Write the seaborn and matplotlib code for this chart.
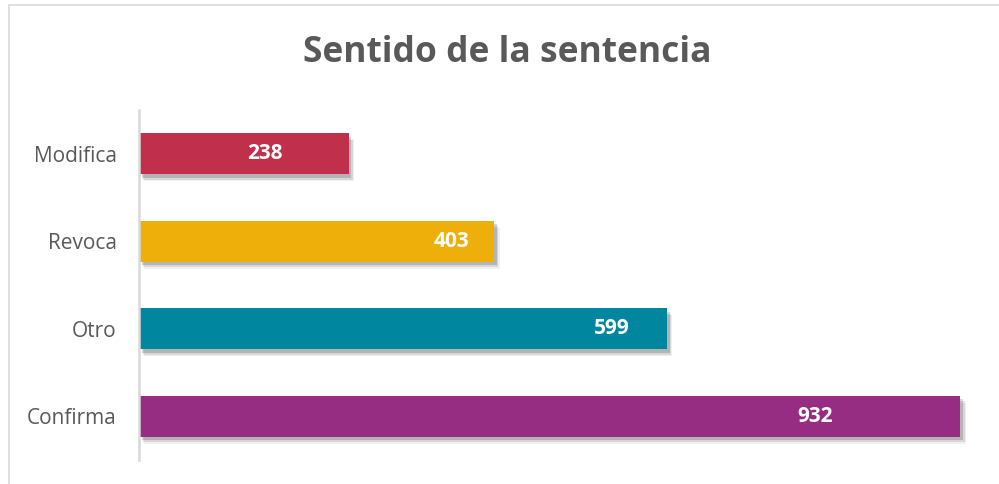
import matplotlib
matplotlib.use('Agg')
import matplotlib.pyplot as plt
import matplotlib.patheffects as pe
from matplotlib.patches import Rectangle
import seaborn as sns
import pandas as pd

categorias = ['Modifica', 'Revoca', 'Otro', 'Confirma']
valores = [238, 403, 599, 932]
colores = ['#C0304A', '#EEAF0A', '#00869E', '#962D83']
# desplazamiento de las etiquetas (centro) respecto al final de la barra
desplazamiento = [95, 48, 62, 165]

df = pd.DataFrame({'categoria': categorias, 'valor': valores})

sns.set_style('white')
plt.rcParams['font.family'] = ['Open Sans', 'DejaVu Sans']

fig = plt.figure(figsize=(9.99, 4.84), dpi=100)
ax = fig.add_axes([0.139, 0.0496, 0.847, 0.7231])

sns.barplot(data=df, x='valor', y='categoria', hue='categoria', palette=colores,
            orient='h', width=0.47, legend=False, ax=ax, saturation=1, linewidth=0)

for barra in ax.patches:
    barra.set_path_effects([
        pe.SimplePatchShadow(offset=(4, -5), shadow_rgbFace='#000000', alpha=0.06),
        pe.SimplePatchShadow(offset=(3, -4), shadow_rgbFace='#000000', alpha=0.10),
        pe.SimplePatchShadow(offset=(2, -2.5), shadow_rgbFace='#000000', alpha=0.16),
        pe.Normal()])

for i, v in enumerate(valores):
    ax.text(v - desplazamiento[i], i, str(v), ha='center', va='center',
            color='white', fontsize=15, fontweight='bold')

ax.set_xlim(0, 960)
ax.set_ylim(3.5, -0.5)
ax.set_xlabel('')
ax.set_ylabel('')
ax.set_xticks([])
ax.tick_params(axis='y', length=0, pad=16, labelsize=15, labelcolor='#595959')
for s in ['top', 'right', 'bottom']:
    ax.spines[s].set_visible(False)
ax.spines['left'].set_color('#D9D9D9')
ax.spines['left'].set_linewidth(1.8)

fig.text(0.508, 0.89, 'Sentido de la sentencia', ha='center', va='center',
         fontsize=25.5, fontweight='bold', color='#595959')

# borde del gráfico
fig.patches.append(Rectangle((9 / 999, -0.05), 1.1, 1.04, transform=fig.transFigure,
                             fill=False, edgecolor='#D9D9D9', linewidth=1.2))

fig.savefig('out.png', dpi=100)
